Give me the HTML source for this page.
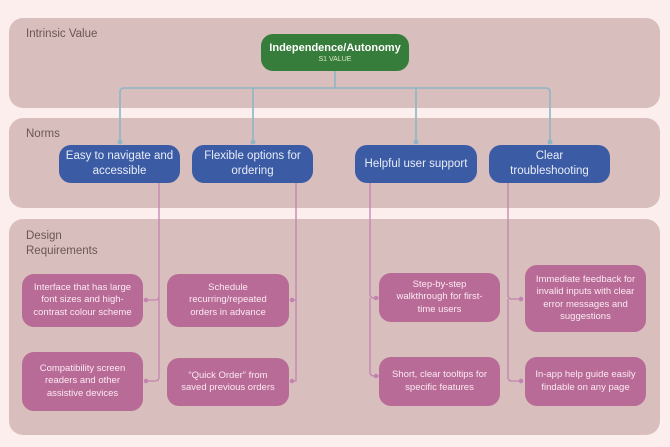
<!DOCTYPE html>
<html><head><meta charset="utf-8"><style>
body{margin:0;width:670px;height:447px;background:#fdeeee;position:relative;overflow:hidden;font-family:"Liberation Sans",sans-serif}
.lane{position:absolute;left:9px;width:651px;background:#d8bfbd;border-radius:14px}
.lt{position:absolute;left:26px;color:#6b5652;font-size:11.5px;line-height:15px}
.n{position:absolute;display:flex;align-items:center;justify-content:center;text-align:center;color:#fff;box-sizing:border-box}
.b{background:#3b5ba5;border-radius:12px;font-size:11.5px;line-height:15px;color:#e8ecf8}
.p{background:#b86b96;border-radius:12px;font-size:9.5px;line-height:12.5px;padding:0 9px;color:#fbe9f2}
svg{position:absolute;left:0;top:0}
</style></head><body>
<div class="lane" style="top:18px;height:90px"></div>
<div class="lane" style="top:118px;height:90px"></div>
<div class="lane" style="top:219px;height:216px"></div>
<div class="lt" style="top:27px">Intrinsic Value</div>
<div class="lt" style="top:127px">Norms</div>
<div class="lt" style="top:229px">Design<br>Requirements</div>
<svg width="670" height="447">
<g fill="none" stroke="#8db6c4" stroke-width="1.6">
<path d="M335 71V88M120 142V92Q120 88 124 88H546Q550 88 550 92V142M253 88V142M416 88V142"/>
</g>
<g fill="#8db6c4"><circle cx="120" cy="142" r="2.5"/><circle cx="253" cy="142" r="2.5"/><circle cx="416" cy="142" r="2.5"/><circle cx="550" cy="142" r="2.5"/></g>
<g fill="none" stroke="#c283b0" stroke-width="1.3">
<path d="M159 183V296Q159 300 155 300H146M159 296V377Q159 381 155 381H146"/>
<path d="M296 183V300H292M296 300V381H292"/>
<path d="M370 183V294Q370 298 374 298H379M370 298V372Q370 376 374 376H379"/>
<path d="M508 183V295Q508 299 512 299H521M508 299V377Q508 381 512 381H521"/>
</g>
<g fill="#c283b0"><circle cx="146" cy="300" r="2.3"/><circle cx="146" cy="381" r="2.3"/><circle cx="292" cy="300" r="2.3"/><circle cx="292" cy="381" r="2.3"/><circle cx="376" cy="298" r="2.3"/><circle cx="376" cy="376" r="2.3"/><circle cx="521" cy="299" r="2.3"/><circle cx="521" cy="381" r="2.3"/></g>
</svg>
<div class="n" style="left:261px;top:34px;width:148px;height:37px;background:#367c3a;border-radius:12px;flex-direction:column"><div style="font-size:11px;font-weight:bold;line-height:14px">Independence/Autonomy</div><div style="font-size:7px;line-height:9px;color:#dfe9c9">S1 VALUE</div></div>
<div class="n b" style="left:59px;top:145px;width:121px;height:38px">Easy to navigate and<br>accessible</div>
<div class="n b" style="left:192px;top:145px;width:121px;height:38px">Flexible options for<br>ordering</div>
<div class="n b" style="left:355px;top:145px;width:122px;height:38px">Helpful user support</div>
<div class="n b" style="left:489px;top:145px;width:121px;height:38px">Clear<br>troubleshooting</div>
<div class="n p" style="left:22px;top:274px;width:121px;height:53px">Interface that has large font sizes and high-contrast colour scheme</div>
<div class="n p" style="left:22px;top:352px;width:121px;height:59px">Compatibility screen readers and other assistive devices</div>
<div class="n p" style="left:167px;top:274px;width:122px;height:53px">Schedule<br>recurring/repeated<br>orders in advance</div>
<div class="n p" style="left:167px;top:358px;width:122px;height:48px">“Quick Order” from saved previous orders</div>
<div class="n p" style="left:379px;top:273px;width:121px;height:49px">Step-by-step walkthrough for first-time users</div>
<div class="n p" style="left:379px;top:357px;width:121px;height:49px">Short, clear tooltips for specific features</div>
<div class="n p" style="left:525px;top:265px;width:121px;height:67px;padding:0 6px">Immediate feedback for invalid inputs with clear error messages and suggestions</div>
<div class="n p" style="left:525px;top:357px;width:121px;height:49px">In-app help guide easily findable on any page</div>
</body></html>
